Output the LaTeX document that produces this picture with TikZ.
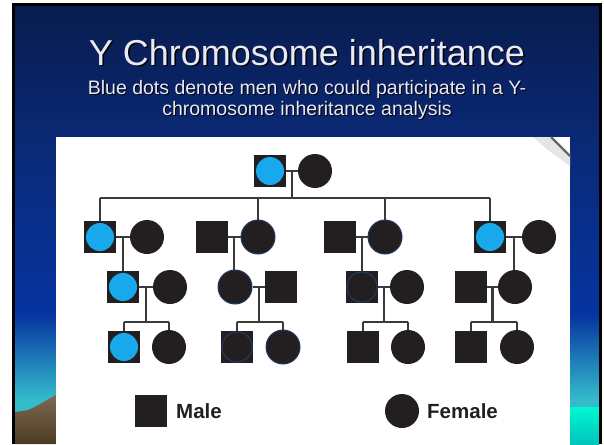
\documentclass[tikz,border=0pt]{standalone}
\usepackage{fontspec}
\setmainfont{Liberation Sans}
\usetikzlibrary{calc}
\definecolor{bgA}{HTML}{081C4E}
\definecolor{bgB}{HTML}{0A2A78}
\definecolor{bgC}{HTML}{0634A0}
\definecolor{bgD}{HTML}{34BCCB}
\definecolor{hillT}{HTML}{7D6A52}
\definecolor{hillB}{HTML}{4C3A22}
\definecolor{cyanT}{HTML}{00F8D0}
\definecolor{cyanB}{HTML}{00C4BC}
\definecolor{titlecol}{HTML}{E8E8F6}
\definecolor{pedblack}{HTML}{231F20}
\definecolor{pedline}{HTML}{3A3A3A}
\definecolor{pedblue}{HTML}{18A9EC}
\definecolor{pedrim}{HTML}{203C64}
\begin{document}
\begin{tikzpicture}[x=1pt,y=-1pt,
  male/.style={rectangle, fill=pedblack, minimum size=32pt, inner sep=0pt},
  female/.style={circle, fill=pedblack, minimum size=34pt, inner sep=0pt},
  bluedot/.style={path picture={\fill[pedblue] (path picture bounding box.center) circle (14pt);}},
  rimmed/.style={draw=pedrim, line width=1pt},
  rimdot/.style={path picture={\draw[pedrim, line width=1pt] (path picture bounding box.center) circle (15pt);}},
  pline/.style={draw=pedline, line width=2.2pt},
  ttl/.style={font=\fontsize{36}{40}\selectfont, anchor=base, inner sep=0pt},
  sub/.style={font=\fontsize{19.5}{22}\selectfont, anchor=base, inner sep=0pt},
  leg/.style={font=\fontsize{20.5}{24}\selectfont\bfseries, text=pedblack, anchor=west, inner sep=0pt}]
\useasboundingbox (0,0) rectangle (604,444);
\fill[white] (0,0) rectangle (604,444);
% background
\shade[top color=bgA, bottom color=bgB] (15,6) rectangle (599,150);
\shade[top color=bgB, bottom color=bgC] (15,149.5) rectangle (599,315);
\shade[top color=bgC, bottom color=bgD] (15,314.5) rectangle (599,400);
\fill[bgD] (15,399.5) rectangle (599,444);
\shade[top color=hillT, bottom color=hillB] (15,412) -- (28,410) .. controls (38,406) and (46,400) .. (56,395) -- (56,444) -- (15,444) -- cycle;
\shade[top color=cyanT, bottom color=cyanB] (570,407) rectangle (599,444);
% frame
\fill[black] (12,3) rectangle (602,6);
\fill[black] (12,3) rectangle (15,444);
\fill[black] (599,3) rectangle (602,444);
% title
\node[ttl, text=black] (titleshadow) at (308.5,66.5) {Y Chromosome inheritance};
\node[ttl, text=titlecol] (title) at (307,65) {Y Chromosome inheritance};
\node[sub, text=black] (subAs) at (308,95.2) {Blue dots denote men who could participate in a Y-};
\node[sub, text=titlecol] (subA) at (307,94) {Blue dots denote men who could participate in a Y-};
\node[sub, text=black] (subBs) at (308,116.2) {chromosome inheritance analysis};
\node[sub, text=titlecol] (subB) at (307,115) {chromosome inheritance analysis};
% panel
\fill[white] (56,137) rectangle (570,444);
\fill[black!10] (533,137) -- (551,137) -- (570,156) -- (570,166) -- (548,150) -- cycle;
\draw[black!60, line width=2.2pt] (551,137) -- (570,156);
% generation 1
\node[male, bluedot] (g1m) at (270,171) {};
\node[female] (g1f) at (315,171) {};
\coordinate (g1c) at ($(g1m.east)!0.5!(g1f.west)$);
\coordinate (s1) at (100,198);
\coordinate (s2) at (490,198);
\draw[pline] (g1m) -- (g1f);
\draw[pline] (g1c) -- (g1c |- s1);
\draw[pline] (s1) -- (s2);
% generation 2
\node[male, bluedot] (g2am) at (100,237) {};
\node[female] (g2af) at (147,237) {};
\node[male] (g2bm) at (212,237) {};
\node[female, rimmed] (g2bf) at (258,237) {};
\node[male] (g2cm) at (340,237) {};
\node[female, rimmed] (g2cf) at (385,237) {};
\node[male, bluedot] (g2dm) at (490,237) {};
\node[female] (g2df) at (539,237) {};
\draw[pline] (s1) -- (g2am);
\draw[pline] (g2bf |- s1) -- (g2bf);
\draw[pline] (g2cf |- s1) -- (g2cf);
\draw[pline] (s2) -- (g2dm);
\foreach \p in {a,b,c,d} {
  \draw[pline] (g2\p m) -- (g2\p f);
  \coordinate (g2\p c) at ($(g2\p m.east)!0.5!(g2\p f.west)$);
}
% generation 3
\node[male, bluedot] (g3am) at (123,287) {};
\node[female] (g3af) at (170,287) {};
\node[female, rimmed] (g3bf) at (235,287) {};
\node[male] (g3bm) at (281,287) {};
\node[male, rimdot] (g3cm) at (362,287) {};
\node[female] (g3cf) at (407,287) {};
\node[male] (g3dm) at (471,287) {};
\node[female] (g3df) at (515,287) {};
\draw[pline] (g2ac) -- (g2ac |- g3am.north);
\draw[pline] (g2bc) -- (g2bc |- g3bf.north);
\draw[pline] (g2cc) -- (g2cc |- g3cm.north);
\draw[pline] (g2dc) -- (g2dc |- g3df.north);
\draw[pline] (g3am) -- (g3af);
\draw[pline] (g3bf) -- (g3bm);
\draw[pline] (g3cm) -- (g3cf);
\draw[pline] (g3dm) -- (g3df);
\coordinate (g3ac) at ($(g3am.east)!0.5!(g3af.west)$);
\coordinate (g3bc) at ($(g3bf.east)!0.5!(g3bm.west)$);
\coordinate (g3cc) at ($(g3cm.east)!0.5!(g3cf.west)$);
\coordinate (g3dc) at ($(g3dm.east)!0.5!(g3df.west)$);
% generation 4
\node[male, bluedot] (g4am) at (124,347) {};
\node[female] (g4af) at (169,347) {};
\node[male, rimdot] (g4bm) at (237,347) {};
\node[female, rimmed] (g4bf) at (283,347) {};
\node[male] (g4cm) at (363,347) {};
\node[female] (g4cf) at (408,347) {};
\node[male] (g4dm) at (471,347) {};
\node[female] (g4df) at (517,347) {};
\foreach \p/\l/\r in {a/124/169, b/237/283, c/363/408, d/471/517} {
  \coordinate (b\p l) at (\l,322);
  \coordinate (b\p r) at (\r,322);
  \draw[pline] (g3\p c) -- (g3\p c |- b\p l);
  \draw[pline] (b\p l) -- (b\p r);
  \draw[pline] (b\p l) -- (g4\p m);
  \draw[pline] (b\p r) -- (g4\p f);
}
% legend
\node[male] (lm) at (151,411) {};
\node[leg] (lmt) at (176,411) {Male};
\node[female] (lf) at (402,411) {};
\node[leg] (lft) at (427,411) {Female};
\end{tikzpicture}
\end{document}
